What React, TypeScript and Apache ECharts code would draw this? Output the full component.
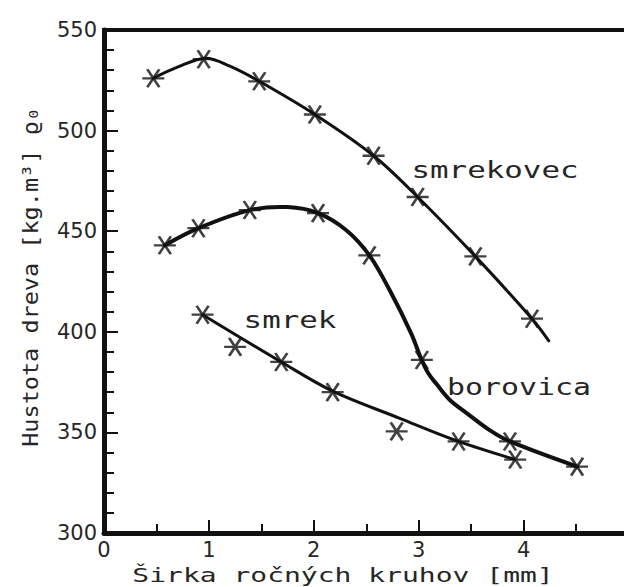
import React, { useEffect, useRef } from "react";
import * as echarts from "echarts";

// Tick labels
const xTickLabels = ["0", "1", "2", "3", "4"];
const yTickLabels = ["300", "350", "400", "450", "500", "550"];

// Measured points (markers)
const smrekovecX = [0.47, 0.95, 1.48, 2.01, 2.57, 2.99, 3.54, 4.08];
const smrekovecY = [526, 535.5, 524.5, 508, 487.5, 467, 437.5, 406.5];
const borovicaX = [0.58, 0.9, 1.39, 2.04, 2.53, 3.03, 3.87, 4.51];
const borovicaY = [443, 451.5, 460.5, 459, 438, 386, 345.5, 333];
const smrekX = [0.94, 1.25, 1.69, 2.18, 2.79, 3.38, 3.92];
const smrekY = [408.5, 392.5, 385, 370, 350.5, 345.5, 336.5];

// Fitted curves
const smrekovecCurveX = [0.47, 0.7, 0.97, 1.2, 1.48, 2.01, 2.57, 2.99, 3.54, 4.08, 4.24];
const smrekovecCurveY = [526, 531.5, 536, 532, 524.5, 508, 487.5, 467, 437.5, 406.5, 395.5];
const borovicaCurveX = [0.58, 0.9, 1.39, 1.75, 2.04, 2.31, 2.53, 2.72, 2.93, 3.02, 3.09, 3.17, 3.3, 3.46, 3.68, 3.87, 4.51];
const borovicaCurveY = [443, 451.5, 460.5, 462, 459, 450.5, 438, 421, 399, 387, 379.5, 374, 366, 359.5, 351, 345.5, 333];
const smrekCurveX = [0.94, 1.69, 2.18, 2.82, 3.38, 3.92];
const smrekCurveY = [408.5, 385, 370.5, 357, 345.5, 336.5];

const zip = (xs: number[], ys: number[]) => xs.map((x, i) => [x, ys[i]]);

const STAR = "path://M0,9 L22,9 M5,0 L17,18 M17,0 L5,18";
const INK = "#111";
const TXT = "#262626";

export default function App() {
  const ref = useRef<HTMLDivElement>(null);
  useEffect(() => {
    if (!ref.current) return;
    const chart = echarts.init(ref.current, null, { renderer: "svg" });
    const markerSeries = (name: string, xs: number[], ys: number[]) => ({
      name: name + " body",
      type: "scatter",
      data: zip(xs, ys),
      symbol: STAR,
      symbolSize: [22, 18],
      itemStyle: { color: "transparent", borderColor: INK, borderWidth: 2.5 },
      z: 5,
    });
    const curveSeries = (name: string, xs: number[], ys: number[], w: number) => ({
      name,
      type: "custom",
      data: zip(xs, ys),
      encode: { x: 0, y: 1 },
      clip: false,
      z: 4,
      renderItem: (params: any, api: any) => {
        if (params.dataIndex !== 0) return null;
        const pts = xs.map((x, i) => api.coord([x, ys[i]]));
        return {
          type: "polyline",
          shape: { points: pts, smooth: 0.35 },
          style: { stroke: INK, lineWidth: w, fill: null, lineCap: "round", lineJoin: "round" },
        };
      },
    });
    chart.setOption({
      animation: false,
      backgroundColor: "#fff",
      grid: {
        left: 104,
        top: 30,
        bottom: 54,
        right: -4.5,
        show: true,
        borderColor: INK,
        borderWidth: 4,
        outerBoundsMode: "none",
      },
      xAxis: {
        type: "value",
        min: 0,
        max: 5,
        interval: 1,
        axisLine: { show: true, lineStyle: { color: INK, width: 5 } },
        axisTick: { show: true, inside: true, length: 13, lineStyle: { color: INK, width: 2 } },
        minorTick: { show: true, splitNumber: 2, length: 9, lineStyle: { color: INK, width: 2 } },
        splitLine: { show: false },
        axisLabel: {
          margin: 6,
          color: TXT,
          fontSize: 21,
          fontFamily: "DejaVu Sans",
          showMaxLabel: false,
          formatter: (v: number) => xTickLabels[v] ?? "",
        },
      },
      yAxis: {
        type: "value",
        min: 300,
        max: 550,
        interval: 50,
        axisLine: { show: true, lineStyle: { color: INK, width: 5 } },
        axisTick: { show: true, inside: true, length: 14, lineStyle: { color: INK, width: 2 } },
        minorTick: { show: true, splitNumber: 5, length: 10, lineStyle: { color: INK, width: 2 } },
        splitLine: { show: false },
        axisLabel: {
          margin: 7,
          color: TXT,
          fontSize: 21,
          fontFamily: "DejaVu Sans",
          formatter: (v: number) => yTickLabels[(v - 300) / 50] ?? "",
        },
      },
      series: [
        curveSeries("smrekovec", smrekovecCurveX, smrekovecCurveY, 3),
        curveSeries("borovica", borovicaCurveX, borovicaCurveY, 4),
        curveSeries("smrek", smrekCurveX, smrekCurveY, 3),
        markerSeries("smrekovec", smrekovecX, smrekovecY),
        markerSeries("borovica", borovicaX, borovicaY),
        markerSeries("smrek", smrekX, smrekY),
      ],
      graphic: [
        {
          type: "text",
          x: 343,
          y: 575,
          scaleX: 1.4,
          style: {
            text: "Širka ročných kruhov [mm]",
            fontSize: 20,
            fontFamily: "DejaVu Sans Mono",
            fill: TXT,
            align: "center",
            verticalAlign: "middle",
          },
        },
        {
          type: "text",
          x: 30,
          y: 277,
          rotation: Math.PI / 2,
          scaleX: 1.12,
          style: {
            text: "Hustota dreva [kg.m³] ϱ₀",
            fontSize: 21,
            fontFamily: "DejaVu Sans Mono",
            fill: TXT,
            align: "center",
            verticalAlign: "middle",
          },
        },
        {
          type: "text",
          x: 495,
          y: 170,
          scaleX: 1.34,
          style: { text: "smrekovec", fontSize: 23, fontFamily: "DejaVu Sans Mono", fill: TXT, align: "center", verticalAlign: "middle" },
        },
        {
          type: "text",
          x: 519,
          y: 387,
          scaleX: 1.3,
          style: { text: "borovica", fontSize: 23, fontFamily: "DejaVu Sans Mono", fill: TXT, align: "center", verticalAlign: "middle" },
        },
        {
          type: "text",
          x: 290,
          y: 320,
          scaleX: 1.34,
          style: { text: "smrek", fontSize: 23, fontFamily: "DejaVu Sans Mono", fill: TXT, align: "center", verticalAlign: "middle" },
        },
      ],
    });
    return () => chart.dispose();
  }, []);
  return <div ref={ref} style={{ position: "fixed", left: 0, top: 0, width: 624, height: 587 }} />;
}
